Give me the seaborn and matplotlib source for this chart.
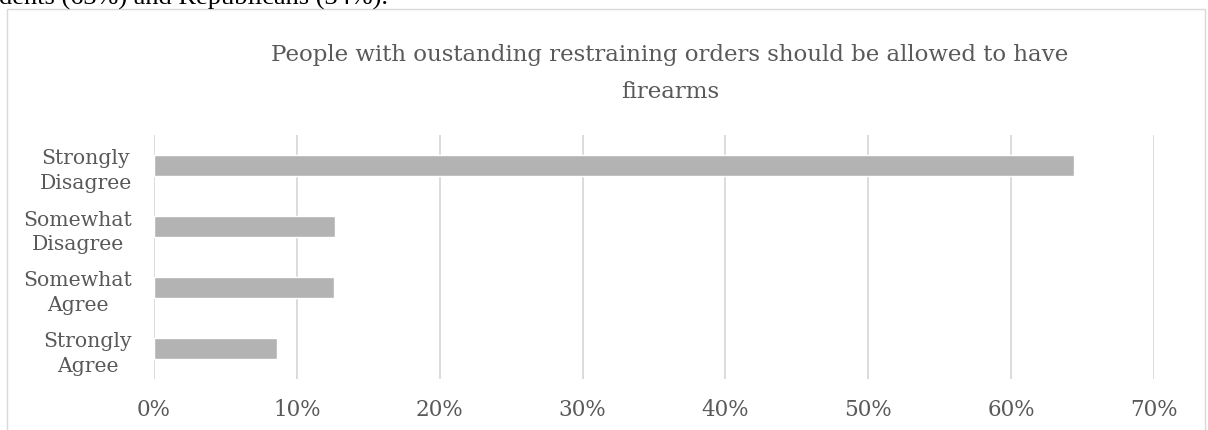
import matplotlib
matplotlib.use("Agg")
import matplotlib.pyplot as plt
from matplotlib.patches import Rectangle
from matplotlib.ticker import FuncFormatter
import seaborn as sns
import pandas as pd

# Survey responses (share of respondents)
categories = ["Strongly\nDisagree", "Somewhat\nDisagree", "Somewhat\nAgree", "Strongly\nAgree"]
shares = [0.644, 0.127, 0.126, 0.086]
x_ticks = [0.0, 0.1, 0.2, 0.3, 0.4, 0.5, 0.6, 0.7]

title_lines = ["People with oustanding restraining orders should be allowed to have",
               "firearms"]
body_line = "dents (63%) and Republicans (34%)."

W, H = 1208, 431
sns.set_theme(style="white")
plt.rcParams["font.family"] = ["DejaVu Serif"]

fig = plt.figure(figsize=(W / 100, H / 100), dpi=100)
fig.patch.set_facecolor("white")

# Chart frame (light border that runs past the bottom edge)
fig.add_artist(Rectangle((7 / W, -0.1), (1205 - 7) / W, 1.1 - 10 / H,
                         transform=fig.transFigure, fill=False,
                         edgecolor="#d9d9d9", linewidth=1.0, clip_on=False))

# Trailing line of the document text above the chart
fig.text(-1 / W, 1 - 5 / H, body_line, ha="left", va="baseline",
         fontsize=19, color="black", family=["Liberation Serif"])

ax = fig.add_axes([154 / W, 1 - 380 / H, 1000 / W, 244 / H])

df = pd.DataFrame({"category": categories, "share": shares})
sns.barplot(data=df, x="share", y="category", orient="h", color="#b3b3b3",
            width=0.345, saturation=1, ax=ax)

ax.set_xlim(0, 0.7)
ax.set_ylim(3.5, -0.5)
ax.set_xticks(x_ticks)
ax.xaxis.set_major_formatter(FuncFormatter(lambda v, _: f"{v * 100:.0f}%"))
ax.grid(axis="x", color="#d9d9d9", linewidth=1.3)
ax.set_axisbelow(True)
for s in ax.spines.values():
    s.set_visible(False)
ax.set_xlabel("")
ax.set_ylabel("")
ax.tick_params(axis="x", length=0, pad=14, labelsize=15.5, labelcolor="#595959")
ax.tick_params(axis="y", length=0, pad=15.8, labelsize=14.7, labelcolor="#595959")
for lbl in ax.get_yticklabels():
    lbl.set_multialignment("center")
    lbl.set_linespacing(1.38)

# Two-line chart title
for text, base in zip(title_lines, (61, 98)):
    fig.text(670 / W, 1 - base / H, text, ha="center", va="baseline",
             fontsize=16.5, color="#595959")

fig.savefig("out.png", dpi=100, facecolor="white")
